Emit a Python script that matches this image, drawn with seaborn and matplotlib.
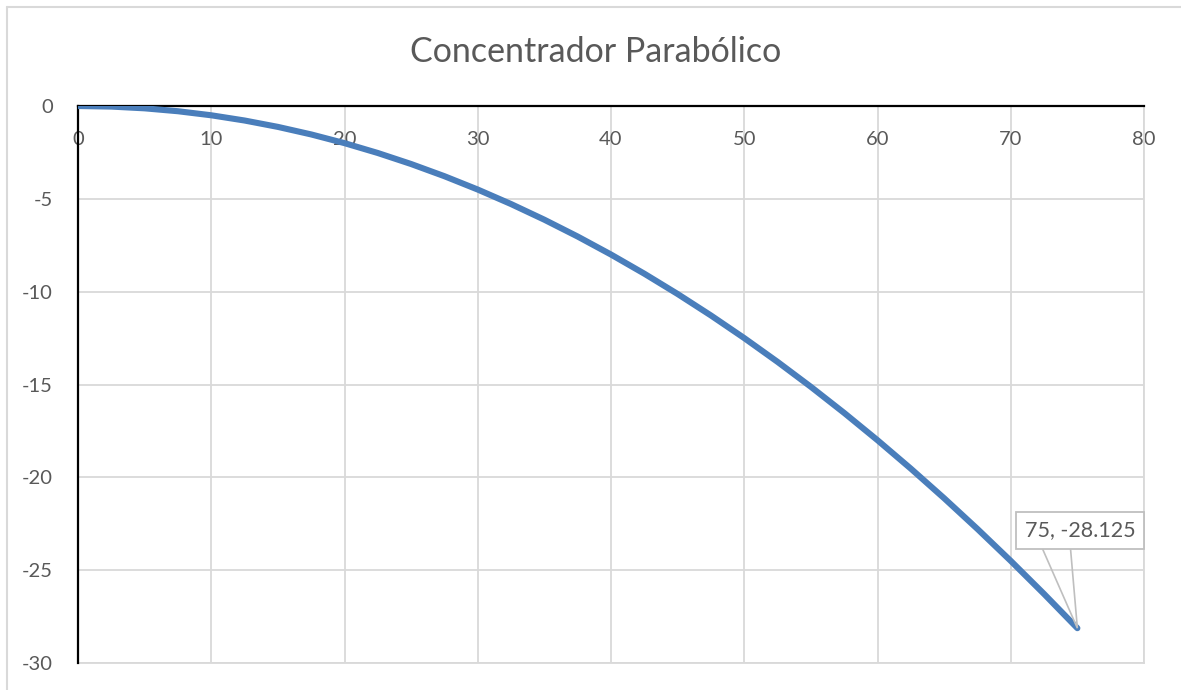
import matplotlib
matplotlib.use("Agg")
import matplotlib.pyplot as plt
from matplotlib.lines import Line2D
from matplotlib.patches import Polygon
import seaborn as sns
import pandas as pd

# Parabolic concentrator profile: x (horizontal) and y (depth)
x_vals = [0, 2.5, 5, 7.5, 10, 12.5, 15, 17.5, 20, 22.5, 25, 27.5, 30, 32.5,
          35, 37.5, 40, 42.5, 45, 47.5, 50, 52.5, 55, 57.5, 60, 62.5, 65,
          67.5, 70, 72.5, 75]
y_vals = [0, -0.03125, -0.125, -0.28125, -0.5, -0.78125, -1.125, -1.53125,
          -2, -2.53125, -3.125, -3.78125, -4.5, -5.28125, -6.125, -7.03125,
          -8, -9.03125, -10.125, -11.28125, -12.5, -13.78125, -15.125,
          -16.53125, -18, -19.53125, -21.125, -22.78125, -24.5, -26.28125,
          -28.125]
x_ticks = [0, 10, 20, 30, 40, 50, 60, 70, 80]
y_ticks = [0, -5, -10, -15, -20, -25, -30]
title_text = "Concentrador Parabólico"

sns.set_theme(style="white")
plt.rcParams["font.family"] = ["Lato", "DejaVu Sans"]

text_color = "#595959"
grid_color = "#d9d9d9"
line_color = "#4a7ebb"
callout_edge = "#bfbfbf"

df = pd.DataFrame({"x": x_vals, "y": y_vals})

fig = plt.figure(figsize=(11.81, 6.90), dpi=100)
ax = fig.add_axes([78 / 1181, 1 - 663 / 690, (1144 - 78) / 1181, (663 - 106) / 690])

sns.lineplot(data=df, x="x", y="y", ax=ax, color=line_color, linewidth=4.4,
             solid_capstyle="round", solid_joinstyle="round", zorder=5)

ax.set_xlim(0, 80)
ax.set_ylim(-30, 0)
ax.set_xticks(x_ticks)
ax.set_yticks(y_ticks)
ax.set_xticklabels([str(v) for v in x_ticks], color=text_color, fontsize=14.5)
ax.set_yticklabels([str(v) for v in y_ticks], color=text_color, fontsize=14.5)
ax.set_xlabel("")
ax.set_ylabel("")

ax.grid(True, color=grid_color, linewidth=1.3)
ax.set_axisbelow(True)

# Axis lines at x=0 and y=0 (top), light frame elsewhere
for side in ["top", "left"]:
    ax.spines[side].set_color("black")
    ax.spines[side].set_linewidth(1.6)
    ax.spines[side].set_zorder(4)
for side in ["bottom", "right"]:
    ax.spines[side].set_color(grid_color)
    ax.spines[side].set_linewidth(1.3)

ax.xaxis.set_ticks_position("top")
ax.xaxis.set_label_position("top")
ax.tick_params(axis="x", which="both", length=0, pad=-30, labeltop=True,
               labelbottom=False)
ax.tick_params(axis="y", which="both", length=0, pad=18)

# Data label callout for the last point
last_x, last_y = x_vals[-1], y_vals[-1]
box_cx, box_cy = 75.2, -22.85
ax.text(box_cx, box_cy, f"{last_x}, {last_y}", ha="center", va="center",
        fontsize=15.5, color=text_color, zorder=8,
        bbox=dict(boxstyle="square,pad=0.4", fc="white", ec=callout_edge, lw=1.3))
# pointer: two thin legs from the lower-left part of the label box to the point
pointer = Polygon([(last_x - 2.8, box_cy - 0.7), (last_x, last_y),
                   (last_x - 0.55, box_cy - 0.7)], closed=False, fc="none",
                  ec=callout_edge, lw=1.2, zorder=7)
ax.add_patch(pointer)

fig.text(596 / 1181, 1 - 52 / 690, title_text, ha="center", va="center",
         fontsize=24.5, color=text_color)

# Chart area border
fig.add_artist(Line2D([7 / 1181, 1.0], [1 - 7 / 690, 1 - 7 / 690],
                      transform=fig.transFigure, color=grid_color, lw=1.5))
fig.add_artist(Line2D([7 / 1181, 7 / 1181], [0.0, 1 - 7 / 690],
                      transform=fig.transFigure, color=grid_color, lw=1.5))

fig.savefig("out.png", dpi=100, facecolor="white")
